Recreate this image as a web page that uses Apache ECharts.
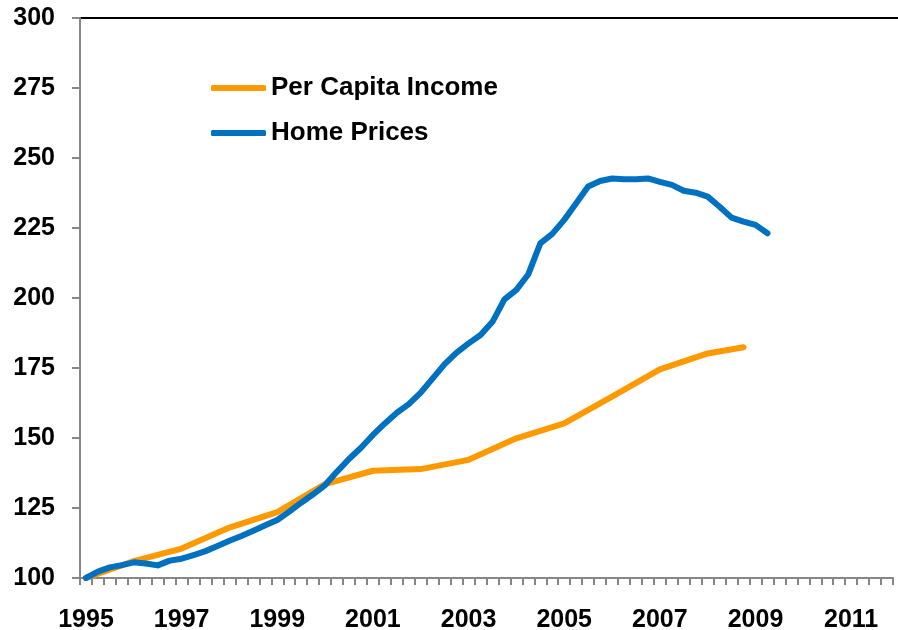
<!DOCTYPE html>
<html>
<head>
<meta charset="utf-8">
<script src="https://cdn.jsdelivr.net/npm/echarts@6/dist/echarts.min.js"></script>
<style>
  html, body { margin: 0; padding: 0; background: #fff; }
  #chart { width: 898px; height: 630px; }
</style>
</head>
<body>
<div id="chart"></div>
<script>
// quarters 1995 Q1 .. 2011 Q4
var years = [1995, 1996, 1997, 1998, 1999, 2000, 2001, 2002, 2003, 2004, 2005, 2006, 2007, 2008, 2009, 2010, 2011]
var quarters = ['Q1', 'Q2', 'Q3', 'Q4']

// home price index, quarterly (1995 Q1 .. 2009 Q2)
var homePrices = [
  100, 102.3, 103.8, 104.6,
  105.6, 105.2, 104.5, 106.2,
  106.9, 108.2, 109.6, 111.4,
  113.3, 115, 116.9, 118.8,
  120.7, 123.7, 126.9, 129.9,
  133.2, 138, 142.5, 146.5,
  151.1, 155.2, 159, 162.1,
  166.2, 171.3, 176.4, 180.5,
  183.8, 186.8, 191.5, 199.5,
  202.9, 208.5, 219.5, 222.9,
  227.9, 233.8, 239.8, 241.8,
  242.7, 242.4, 242.4, 242.7,
  241.5, 240.4, 238.3, 237.6,
  236.2, 232.6, 228.7, 227.3,
  226.1, 223.1
]

// per capita income index, annual readings (placed at Q1), plus 2008 Q4
var incomeAnnual = [100, 106, 110.5, 118, 123.5, 133.5, 138.3, 138.9, 142.2, 149.9, 155.2, 164.8, 174.5, 180.2]
var incomeLast = 182.4

var yTicks = [100, 125, 150, 175, 200, 225, 250, 275, 300]

var categories = []
years.forEach(function (y) {
  quarters.forEach(function (q) { categories.push(y + ' ' + q) })
})

var income = categories.map(function () { return null })
incomeAnnual.forEach(function (v, k) { income[k * 4] = v })
income[55] = incomeLast

var font = "'Liberation Sans', Arial, sans-serif"

var chart = echarts.init(document.getElementById('chart'))
chart.setOption({
  animation: false,
  backgroundColor: '#fff',
  grid: { left: 80, right: 5, top: 18, bottom: 52, outerBoundsMode: 'none', containLabel: false },
  legend: {
    orient: 'vertical',
    left: 211,
    top: 75,
    padding: 0,
    icon: 'roundRect',
    itemWidth: 55,
    itemHeight: 6,
    itemGap: 19,
    selectedMode: false,
    textStyle: { fontFamily: font, fontWeight: 'bold', fontSize: 26, color: '#000' },
    data: ['Per Capita Income', 'Home Prices']
  },
  xAxis: {
    type: 'category',
    data: categories,
    boundaryGap: true,
    axisLine: { lineStyle: { color: '#868686', width: 2 } },
    axisTick: { show: true, interval: 0, length: 7, lineStyle: { color: '#868686', width: 2 } },
    axisLabel: {
      interval: 7,
      margin: 30,
      fontFamily: font,
      fontWeight: 'bold',
      fontSize: 25,
      color: '#000',
      formatter: function (v) { return v.split(' ')[0] }
    },
    splitLine: { show: false }
  },
  yAxis: {
    type: 'value',
    min: yTicks[0],
    max: yTicks[yTicks.length - 1],
    interval: 25,
    axisLine: { show: true, lineStyle: { color: '#868686', width: 2 } },
    axisTick: { show: true, length: 8, lineStyle: { color: '#868686', width: 2 } },
    axisLabel: { margin: 25, fontFamily: font, fontWeight: 'bold', fontSize: 25, color: '#000' },
    splitLine: { show: false }
  },
  graphic: [{
    type: 'line',
    shape: { x1: 80, y1: 18, x2: 898, y2: 18 },
    style: { stroke: '#000', lineWidth: 2 }
  }],
  series: [
    {
      name: 'Per Capita Income',
      type: 'line',
      data: income,
      connectNulls: true,
      symbol: 'none',
      color: '#FF9900',
      lineStyle: { width: 6, color: '#FF9900', cap: 'round', join: 'round' }
    },
    {
      name: 'Home Prices',
      type: 'line',
      data: homePrices,
      symbol: 'none',
      color: '#0070C0',
      lineStyle: { width: 6, color: '#0070C0', cap: 'round', join: 'round' }
    }
  ]
})
</script>
</body>
</html>
